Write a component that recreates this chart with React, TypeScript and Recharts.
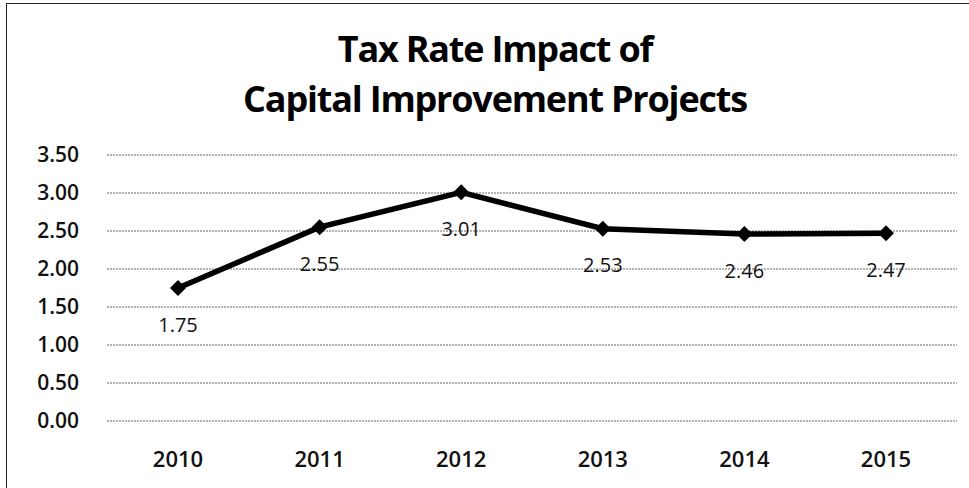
import React from 'react';
import {
  LineChart,
  Line,
  XAxis,
  YAxis,
  CartesianGrid,
  LabelList,
} from 'recharts';

const years = ['2010', '2011', '2012', '2013', '2014', '2015'];
const taxRate = [1.75, 2.55, 3.01, 2.53, 2.46, 2.47];
const yTicks = [0, 0.5, 1, 1.5, 2, 2.5, 3, 3.5];

const data = years.map((year, i) => ({ year, rate: taxRate[i] }));

const FONT = '"Open Sans", "DejaVu Sans", sans-serif';

function Diamond(props: any) {
  const { cx, cy } = props;
  if (cx == null || cy == null) return null;
  const r = 8;
  return (
    <polygon
      points={`${cx},${cy - r} ${cx + r},${cy} ${cx},${cy + r} ${cx - r},${cy}`}
      fill="#000"
    />
  );
}

function ValueLabel(props: any) {
  const { x, y, value } = props;
  return (
    <text
      x={x}
      y={y + 36}
      textAnchor="middle"
      dominantBaseline="central"
      fontFamily={FONT}
      fontSize={20}
      fill="#111"
    >
      {Number(value).toFixed(2)}
    </text>
  );
}

export default function App() {
  return (
    <div
      style={{
        position: 'absolute',
        left: 0,
        top: 0,
        width: 969,
        height: 488,
        background: '#fff',
        overflow: 'hidden',
      }}
    >
      <div
        style={{
          position: 'absolute',
          left: 6,
          top: 3,
          width: 980,
          height: 500,
          borderLeft: '1.5px solid #222',
          borderTop: '1.5px solid #222',
        }}
      />
      <div
        style={{
          position: 'absolute',
          left: 0,
          top: 24,
          width: 990,
          textAlign: 'center',
          fontFamily: FONT,
          fontWeight: 700,
          fontSize: 36,
          lineHeight: '50px',
          letterSpacing: -1.2,
          color: '#000',
        }}
      >
        Tax Rate Impact of
        <br />
        Capital Improvement Projects
      </div>
      <div style={{ position: 'absolute', left: 0, top: 0 }}>
        <LineChart
          width={969}
          height={488}
          data={data}
          margin={{ top: 155, right: 12, bottom: 0, left: 0 }}
        >
          <CartesianGrid
            vertical={false}
            stroke="#666"
            strokeDasharray="2 1"
          />
          <XAxis
            dataKey="year"
            axisLine={false}
            tickLine={false}
            tickMargin={24}
            height={67}
            interval={0}
            padding={{ left: 71, right: 71 }}
            tick={{ fill: '#111', fontSize: 22, fontFamily: FONT, fontWeight: 600 }}
          />
          <YAxis
            domain={[0, 3.5]}
            ticks={yTicks}
            width={107}
            interval={0}
            axisLine={false}
            tickLine={false}
            tickMargin={22}
            tickFormatter={(v) => Number(v).toFixed(2)}
            tick={{ fill: '#111', fontSize: 21, fontFamily: FONT, fontWeight: 600 }}
          />
          <Line
            type="linear"
            dataKey="rate"
            stroke="#000"
            strokeWidth={5.5}
            dot={<Diamond />}
            activeDot={false}
            isAnimationActive={false}
          >
            <LabelList dataKey="rate" content={<ValueLabel />} />
          </Line>
        </LineChart>
      </div>
    </div>
  );
}
